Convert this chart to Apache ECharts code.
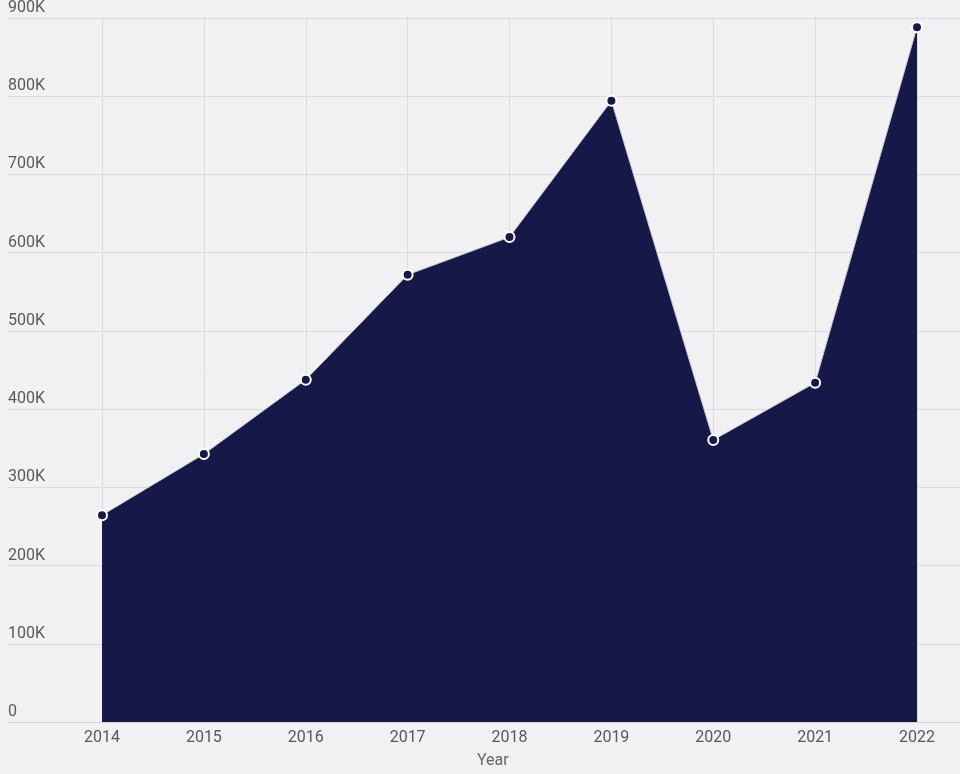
<!DOCTYPE html>
<html>
<head>
<meta charset="utf-8">
<script src="https://cdn.jsdelivr.net/npm/echarts@6/dist/echarts.min.js"></script>
<style>
html,body{margin:0;padding:0;background:#f1f1f4;}
#chart{width:960px;height:774px;}
</style>
</head>
<body>
<div id="chart"></div>
<script>
var years = ['2014','2015','2016','2017','2018','2019','2020','2021','2022'];
var values = [264000, 342000, 437000, 571000, 619000, 793000, 360000, 433000, 887000];
var yTicks = [0, 100000, 200000, 300000, 400000, 500000, 600000, 700000, 800000, 900000];
var xTitle = 'Year';

var chart = echarts.init(document.getElementById('chart'));
function fmt(v){ return v === 0 ? '0' : (v/1000) + 'K'; }
chart.setOption({
  backgroundColor: '#f1f1f4',
  animation: false,
  textStyle: {fontFamily: 'Roboto'},
  grid: [
    {left: 8, right: 0, top: 17, bottom: 52},
    {left: 102, right: 43, top: 17, bottom: 52}
  ],
  xAxis: [
    {gridIndex: 0, type: 'value', min: 0, max: 1, show: true,
     axisLine: {show: true, lineStyle: {color: '#d4d4d8'}},
     axisTick: {show: false}, axisLabel: {show: false}, splitLine: {show: false}},
    {gridIndex: 1, type: 'category', data: years, boundaryGap: false,
     axisLine: {show: false}, axisTick: {show: false},
     axisLabel: {color: '#595959', fontSize: 16, margin: 8},
     splitLine: {show: true, lineStyle: {color: '#dcdce0'}}}
  ],
  yAxis: [
    {gridIndex: 0, type: 'value', min: yTicks[0], max: yTicks[yTicks.length-1], interval: 100000,
     axisLine: {show: false}, axisTick: {show: false},
     axisLabel: {inside: true, color: '#595959', fontSize: 16, verticalAlign: 'bottom', margin: 0,
                 padding: [0,0,2,0], formatter: fmt},
     splitLine: {show: true, lineStyle: {color: '#dcdce0'}}},
    {gridIndex: 1, type: 'value', min: yTicks[0], max: yTicks[yTicks.length-1], interval: 100000,
     show: false, splitLine: {show: false}}
  ],
  graphic: [{type: 'text', left: 477, top: 753,
             style: {text: xTitle, fill: '#666', fontSize: 16, fontFamily: 'Roboto'}}],
  series: [{
    type: 'line', xAxisIndex: 1, yAxisIndex: 1, data: values,
    symbol: 'circle', symbolSize: 10,
    itemStyle: {color: '#161848', borderColor: '#ffffff', borderWidth: 2},
    lineStyle: {color: '#c8c8d4', width: 1},
    areaStyle: {color: '#161848', opacity: 1},
    z: 3
  }]
});
</script>
</body>
</html>
